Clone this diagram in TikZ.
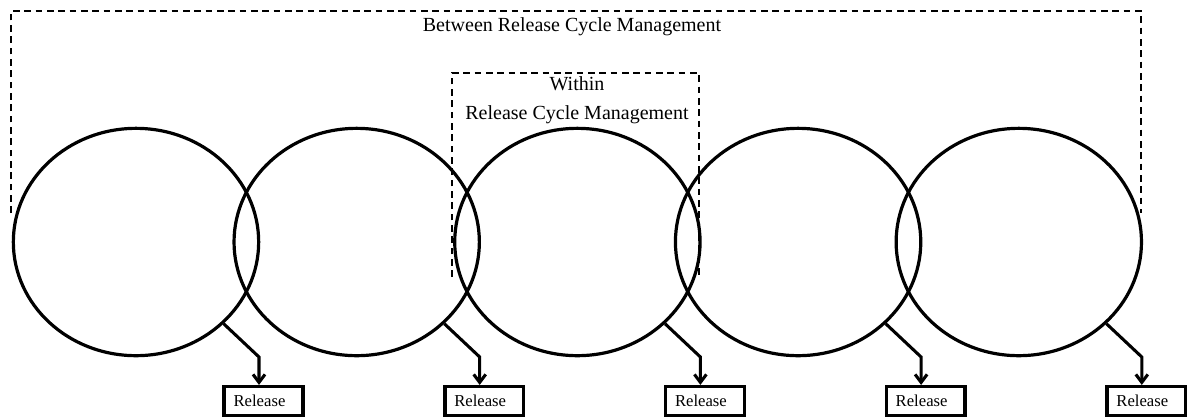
\documentclass[tikz,border=0pt]{standalone}
\usepackage{fontspec}
\setmainfont{Liberation Serif}
\usetikzlibrary{shapes.geometric}
\usetikzlibrary{arrows.meta}
\tikzset{
  release chart/.style={
    cycle ellipse/.style={ellipse, draw, line width=2.4pt, inner sep=0pt,
      minimum width=184pt, minimum height=170.5pt},
    release box/.style={rectangle, draw, line width=2.6pt, inner sep=0pt,
      minimum width=59pt, minimum height=21.5pt,
      font={\fontsize{12.5}{15}\selectfont}},
    release arrow/.style={line width=2.3pt, line join=miter,
      -{Straight Barb[length=6pt,width=9pt,line width=2.3pt]}},
    frame line/.style={line width=1.7pt, dash pattern=on 5pt off 3.5pt},
    frame label/.style={font={\fontsize{15}{21.75}\selectfont}, align=center},
  }
}

\begin{document}
\begin{tikzpicture}[release chart, x=0.75pt, y=-0.75pt]
    \useasboundingbox (0,0) rectangle (1187,419);

    % release cycles and their releases
    \foreach \i in {1,...,5}{
        \pgfmathsetmacro{\cx}{136+220.7*(\i-1)}
        \node[cycle ellipse] (e\i) at (\cx,242) {};
        \node[release box] (r\i) at (\cx+127.5,401) {Release\kern6pt};
        \coordinate (k\i) at (\cx+123,357);
        \draw[release arrow] (e\i.-43) -- (k\i) -- (k\i |- r\i.north);
    }

    % management frames
    \draw[frame line] (11,213) -- (11,11) -- (1141,11) -- (1141,213);
    \node[frame label] (between) at (572,27) {Between Release Cycle Management};
    \draw[frame line] (452,277) -- (452,73) -- (699,73) -- (699,277);
    \node[frame label] (within) at (577,100.5) {Within\\Release Cycle Management};
\end{tikzpicture}
\end{document}
